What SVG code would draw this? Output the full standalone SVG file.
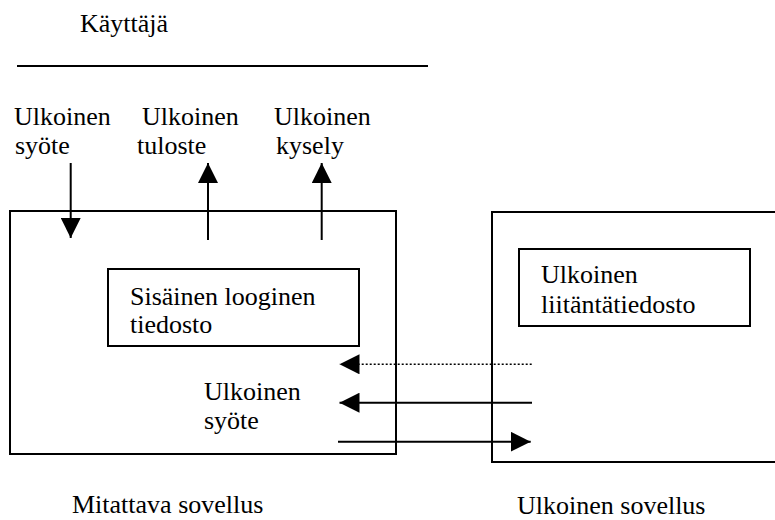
<svg xmlns="http://www.w3.org/2000/svg" width="775" height="520" viewBox="0 0 775 520">
  <style>
    text { font-family: 'Liberation Serif', 'Times New Roman', serif; font-size: 26px; fill: #000; }
    .box { fill: none; stroke: #000; stroke-width: 2; }
    .wire { stroke: #000; stroke-width: 2; fill: none; }
    .dotted { stroke-width: 1.6; stroke-dasharray: 2 2; }
  </style>
  <defs>
    <marker id="head" markerUnits="userSpaceOnUse" markerWidth="20" markerHeight="20" refX="20" refY="10" orient="auto" viewBox="0 0 20 20">
      <path d="M0,0 L20,10 L0,20 Z" fill="#000" stroke="none"/>
    </marker>
  </defs>
  <rect width="775" height="520" fill="#fff"/>

  <!-- user side -->
  <g id="user">
    <text x="80" y="32">Käyttäjä</text>
    <line x1="17" y1="66" x2="428" y2="66" stroke="#000" stroke-width="2"/>
  </g>

  <g id="ext-input-label">
    <text x="14" y="125">Ulkoinen</text>
    <text x="15" y="154">syöte</text>
  </g>
  <g id="ext-output-label">
    <text x="142" y="125">Ulkoinen</text>
    <text x="137" y="154">tuloste</text>
  </g>
  <g id="ext-query-label">
    <text x="274" y="125">Ulkoinen</text>
    <text x="276" y="154">kysely</text>
  </g>

  <!-- measured application -->
  <g id="measured-app">
    <rect class="box" x="10" y="211" width="386" height="243"/>
    <text x="72" y="513">Mitattava sovellus</text>
  </g>
  <g id="internal-file">
    <rect class="box" x="108" y="269" width="251" height="77"/>
    <text x="130" y="305">Sisäinen looginen</text>
    <text x="130" y="333">tiedosto</text>
  </g>
  <g id="inner-input-label">
    <text x="204" y="400">Ulkoinen</text>
    <text x="204" y="429">syöte</text>
  </g>

  <!-- external application (open to the right edge) -->
  <g id="external-app">
    <rect class="box" x="492" y="212" width="320" height="250"/>
    <text x="517" y="514">Ulkoinen sovellus</text>
  </g>
  <g id="interface-file">
    <rect class="box" x="519" y="249" width="231" height="77"/>
    <text x="541" y="283">Ulkoinen</text>
    <text x="541" y="313">liitäntätiedosto</text>
  </g>

  <!-- connectors -->
  <g id="connectors">
    <line class="wire" x1="70.7" y1="163" x2="70.7" y2="238" marker-end="url(#head)"/>
    <line class="wire" x1="208" y1="240" x2="208" y2="163" marker-end="url(#head)"/>
    <line class="wire" x1="321.7" y1="240" x2="321.7" y2="163" marker-end="url(#head)"/>
    <line class="wire dotted" x1="531.7" y1="364.3" x2="339.5" y2="364.3" marker-end="url(#head)"/>
    <line class="wire" x1="532" y1="402.7" x2="339.5" y2="402.7" marker-end="url(#head)"/>
    <line class="wire" x1="338" y1="441.7" x2="530.7" y2="441.7" marker-end="url(#head)"/>
  </g>
</svg>
